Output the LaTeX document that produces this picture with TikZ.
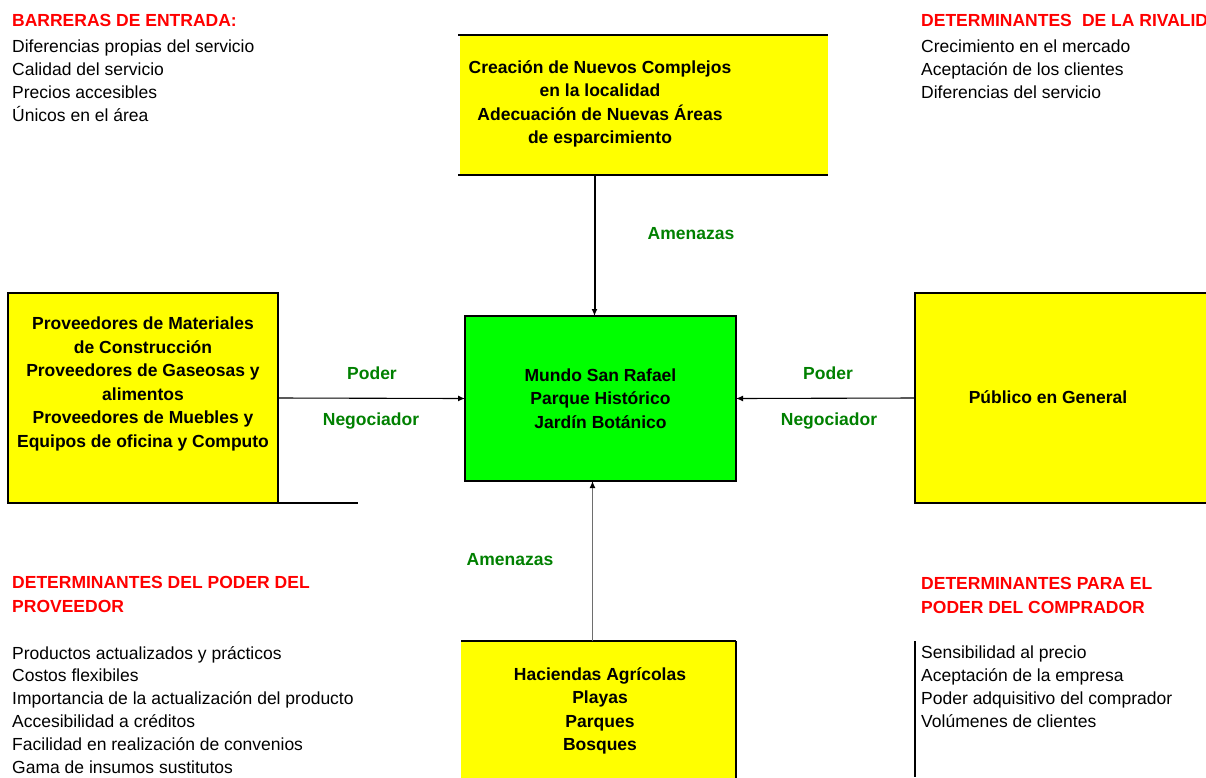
\documentclass[tikz,border=0pt]{standalone}
\usepackage{fontspec}
\setmainfont{Liberation Sans}
\usepackage{tikz}
\usetikzlibrary{arrows.meta}
\definecolor{amarillo}{RGB}{255,255,0}
\definecolor{verdecaja}{RGB}{0,255,0}
\definecolor{verdetxt}{RGB}{0,128,0}
\definecolor{rojotit}{RGB}{255,0,0}
\definecolor{grisflecha}{RGB}{110,110,110}

\begin{document}
\begin{tikzpicture}[x=1pt,y=-1pt,
	>={Latex[length=7pt,width=6pt]},
	caja/.style={fill=amarillo,inner sep=0pt,outer sep=0pt,anchor=north west},
	negrita/.style={font=\fontsize{17.5}{23.5}\selectfont\bfseries,align=center,inner sep=0pt},
	lista/.style={font=\fontsize{17.5}{22.8}\selectfont,align=left,anchor=base west,inner sep=0pt},
	titulo/.style={font=\fontsize{17.5}{24}\selectfont\bfseries,text=rojotit,align=left,anchor=base west,inner sep=0pt},
	fuerza/.style={font=\fontsize{17.5}{23}\selectfont\bfseries,text=verdetxt,inner sep=0pt},
	borde/.style={line width=2.2pt},
	fino/.style={line width=1.1pt}]
	\useasboundingbox (0,0) rectangle (1206,777);
	\clip (0,0) rectangle (1206,777);

	\node[caja,minimum width=368,minimum height=140] (nuevos) at (460,35) {};
	\draw[borde] ([xshift=-2]nuevos.north west) -- (nuevos.north east);
	\draw[borde] ([xshift=-2]nuevos.south west) -- (nuevos.south east);
	\node[negrita] (nuevostxt) at (600,104) {Creación de Nuevos Complejos\\en la localidad\\Adecuación de Nuevas Áreas\\de esparcimiento};

	\node[caja,draw,fino,minimum width=270,minimum height=210] (prov) at (8,293) {};
	\draw[borde] (prov.south west) -- ([xshift=80]prov.south east);
	\node[negrita] (provtxt) at (143,384) {Proveedores de Materiales\\de Construcción\\Proveedores de Gaseosas y\\alimentos\\Proveedores de Muebles y\\Equipos de oficina y Computo};

	\node[caja,draw,fino,minimum width=300,minimum height=210] (publico) at (915,293) {};
	\draw[borde] (publico.south west) -- (publico.south east);
	\node[negrita] (publicotxt) at (1048,397) {Público en General};

	\node[negrita,fill=verdecaja,draw,line width=1.3pt,minimum width=271,minimum height=165,anchor=north west,outer sep=0pt] (mundo) at (465,316) {Mundo San Rafael\\Parque Histórico\\Jardín Botánico};

	\node[caja,minimum width=275,minimum height=140] (haciendas) at (461,641) {};
	\draw[borde] (haciendas.north west) -- (haciendas.north east);
	\draw[fino] (haciendas.north east) -- (haciendas.south east);
	\node[negrita] (haciendastxt) at (600,711) {Haciendas Agrícolas\\Playas\\Parques\\Bosques};

	\draw[->,line width=2pt] ([xshift=-6]mundo.north |- nuevos.south) -- ([xshift=-6]mundo.north);
	\draw[-{Latex[length=7pt,width=6pt,black]},grisflecha,line width=1.3pt] ([xshift=-8]mundo.south |- haciendas.north) -- ([xshift=-8]mundo.south);
	\draw[->,line width=1.1pt] (prov.east) -- (mundo.west);
	\draw[->,line width=1.1pt] (publico.west) -- (mundo.east);

	\node[fuerza] (amenazasarriba) at (691,234) {Amenazas};
	\node[fuerza] (amenazasabajo) at (510,560) {Amenazas};
	\node[fuerza] (poderizq) at (372,373) {Poder};
	\node[fuerza] (negizq) at (371,421) {Negociador};
	\node[fuerza] (poderder) at (828,373) {Poder};
	\node[fuerza] (negder) at (829,421) {Negociador};

	\node[titulo] (barreras) at (12,26) {BARRERAS DE ENTRADA:};
	\node[lista] (barreraslista) at (12,121) {Diferencias propias del servicio\\Calidad del servicio\\Precios accesibles\\Únicos en el área};
	\node[titulo] (rivalidad) at (921,26) {DETERMINANTES\hspace{0.3em} DE LA RIVALIDAD};
	\node[lista] (rivalidadlista) at (921,98) {Crecimiento en el mercado\\Aceptación de los clientes\\Diferencias del servicio};
	\node[titulo] (proveedor) at (12,612) {DETERMINANTES DEL PODER DEL\\PROVEEDOR};
	\node[lista] (proveedorlista) at (12,773) {Productos actualizados y prácticos\\Costos flexibiles\\Importancia de la actualización del producto\\Accesibilidad a créditos\\Facilidad en realización de convenios\\Gama de insumos sustitutos};
	\node[titulo] (comprador) at (921,613) {DETERMINANTES PARA EL\\PODER DEL COMPRADOR};
	\node[lista] (compradorlista) at (921,727) {Sensibilidad al precio\\Aceptación de la empresa\\Poder adquisitivo del comprador\\Volúmenes de clientes};
	\draw[borde] (915,641) -- (915,777);
\end{tikzpicture}
\end{document}
